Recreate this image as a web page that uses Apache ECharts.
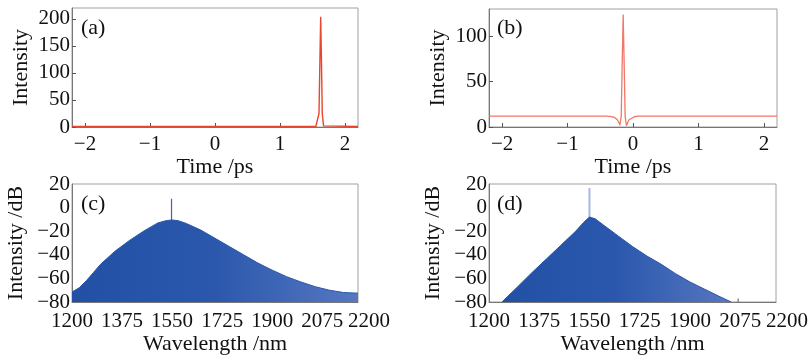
<!DOCTYPE html>
<html>
<head>
<meta charset="utf-8">
<script src="https://cdn.jsdelivr.net/npm/echarts@6/dist/echarts.min.js"></script>
<style>
  html, body { margin: 0; padding: 0; background: #fff; }
  #chart { width: 811px; height: 357px; }
</style>
</head>
<body>
<div id="chart"></div>
<script>
// panel (a): time trace
const timeA = [-2.2, 1.55, 1.58, 1.6, 1.615, 1.626, 1.637, 1.65, 1.67, 1.7, 2.2]
const intensA = [0.8, 0.8, 2, 25, 130, 204, 130, 25, 2, 0.8, 0.8]

// panel (b): time trace
const timeB = [-2.2, -0.4, -0.33, -0.28, -0.24, -0.215, -0.2, -0.18, -0.165, -0.15, -0.135, -0.12, -0.1, -0.08, -0.06, -0.03, 0.02, 0.08, 2.2]
const intensB = [12, 12, 11.5, 10.5, 8, 5, 2, 12, 70, 124, 70, 12, 1.5, 5, 8, 10, 11.3, 12, 12]

// panel (c): spectrum envelope (dB)
const wlC = [1200, 1225, 1250, 1275, 1300, 1350, 1400, 1450, 1500, 1530, 1550, 1570, 1600, 1650, 1700, 1750, 1800, 1850, 1900, 1950, 2000, 2050, 2100, 2150, 2200]
const dbC = [-71.5, -68, -62, -55, -48, -37, -28, -20, -13, -11, -10.5, -11, -13.5, -19, -26, -33, -40, -47, -53, -58.5, -63, -67, -70, -72, -72.5]
const spikeC = [[1548, -80], [1548, 7.5]]

// panel (d): spectrum envelope (dB)
const wlD = [1245, 1300, 1350, 1400, 1450, 1500, 1530, 1550, 1570, 1600, 1650, 1700, 1750, 1800, 1850, 1900, 1950, 2000, 2044]
const dbD = [-80, -67, -55, -43.5, -32, -20.5, -12.5, -8, -9.5, -15, -24, -33, -41, -48, -56, -63, -69, -75, -80]
const spikeD = [[1550, -80], [1550, 16.5]]
const stubD = [[2068, -80], [2068, -77]]

// tick labels
const timeTicks = [-2, -1, 0, 1, 2]
const ticksYA = [0, 50, 100, 150, 200]
const ticksYB = [0, 50, 100]
const wlTicks = [1200, 1375, 1550, 1725, 1900, 2075, 2200]
const dbTicks = [-80, -60, -40, -20, 0, 20]

const FONT = 'Liberation Serif'
const minus = v => String(v).replace('-', '\u2212')
const zip = (xs, ys) => xs.map((x, i) => [x, ys[i]])

const grids = [
	{ left: 72, top: 8, width: 286, height: 119 },
	{ left: 489, top: 9, width: 288, height: 118 },
	{ left: 72, top: 184, width: 286, height: 118 },
	{ left: 489, top: 184, width: 289, height: 118 },
].map(g => Object.assign({ show: true, borderColor: '#a0a0a0', borderWidth: 1, backgroundColor: '#fff' }, g))

function axis(gridIndex, opts) {
	return Object.assign({
		type: 'value',
		gridIndex,
		nameLocation: 'middle',
		nameTextStyle: { fontFamily: FONT, fontSize: 22, color: '#111' },
		axisLine: { show: true, onZero: false, lineStyle: { color: '#777', width: 1 } },
		axisTick: { show: true, inside: true, length: 4, lineStyle: { color: '#555' } },
		splitLine: { show: false },
	}, opts)
}

function xlabel(ticks, margin, lastShift) {
	return {
		customValues: ticks,
		margin,
		fontFamily: FONT, fontSize: 21, color: '#111',
		formatter: v => v === ticks[ticks.length - 1] && lastShift ? '{r|' + minus(v) + '}' : minus(v),
		rich: { r: { fontFamily: FONT, fontSize: 21, color: '#111', padding: [0, 0, 0, lastShift || 0] } },
	}
}

function ylabel(ticks) {
	return { customValues: ticks, margin: 2, fontFamily: FONT, fontSize: 21, color: '#111', formatter: v => minus(v) }
}

const tick = ticks => ({ inside: true, length: 4, customValues: ticks, lineStyle: { color: '#555' } })

const xAxes = [
	axis(0, { min: -2.2, max: 2.2, name: 'Time /ps', nameGap: 29, axisLabel: xlabel(timeTicks, 7), axisTick: tick(timeTicks) }),
	axis(1, { min: -2.2, max: 2.2, name: 'Time /ps', nameGap: 29, axisLabel: xlabel(timeTicks, 7), axisTick: tick(timeTicks) }),
	axis(2, { min: 1200, max: 2200, name: 'Wavelength /nm', nameGap: 31, axisLabel: xlabel(wlTicks, 9, 22), axisTick: { show: false } }),
	axis(3, { min: 1200, max: 2200, name: 'Wavelength /nm', nameGap: 31, axisLabel: xlabel(wlTicks, 9, 22), axisTick: { show: false } }),
]

const yAxes = [
	axis(0, { min: 0, max: 220, name: 'Intensity', nameGap: 40, axisLabel: ylabel(ticksYA), axisTick: tick(ticksYA) }),
	axis(1, { min: 0, max: 130, name: 'Intensity', nameGap: 40, axisLabel: ylabel(ticksYB), axisTick: tick(ticksYB) }),
	axis(2, { min: -80, max: 20, name: 'Intensity /dB', nameGap: 45, axisLabel: ylabel(dbTicks), axisTick: { show: false } }),
	axis(3, { min: -80, max: 20, name: 'Intensity /dB', nameGap: 45, axisLabel: ylabel(dbTicks), axisTick: { show: false } }),
]

const blueFill = {
	type: 'linear', x: 0, y: 0, x2: 1, y2: 0,
	colorStops: [
		{ offset: 0, color: '#2150a4' },
		{ offset: 0.5, color: '#2b58ac' },
		{ offset: 1, color: '#5777c2' },
	],
}

const line = (i, data, color, width, z) => ({
	type: 'line', xAxisIndex: i, yAxisIndex: i, data,
	showSymbol: false, symbol: 'none', silent: true,
	lineStyle: { color, width }, z: z || 3,
})

const option = {
	animation: false,
	backgroundColor: '#fff',
	grid: grids,
	xAxis: xAxes,
	yAxis: yAxes,
	title: [
		{ text: '(a)', left: 76, top: 12 },
		{ text: '(b)', left: 492, top: 12 },
		{ text: '(c)', left: 76, top: 188 },
		{ text: '(d)', left: 492, top: 188 },
	].map(t => Object.assign({ textStyle: { fontFamily: FONT, fontSize: 22, fontWeight: 'normal', color: '#111' } }, t)),
	series: [
		line(0, zip(timeA, intensA), '#e8462f', 1.4),
		line(1, zip(timeB, intensB), '#f27766', 1.3),
		line(2, spikeC, '#3d64b8', 1.2, 2),
		Object.assign(line(2, zip(wlC, dbC), '#2a56aa', 1, 3), { areaStyle: { color: blueFill, opacity: 1, origin: 'start' } }),
		line(3, spikeD, '#a6b9e3', 2, 2),
		Object.assign(line(3, zip(wlD, dbD), '#2a56aa', 1, 3), { areaStyle: { color: blueFill, opacity: 1, origin: 'start' } }),
		line(3, stubD, '#555', 1),
	],
}

const chart = echarts.init(document.getElementById('chart'))
chart.setOption(option)
</script>
</body>
</html>
